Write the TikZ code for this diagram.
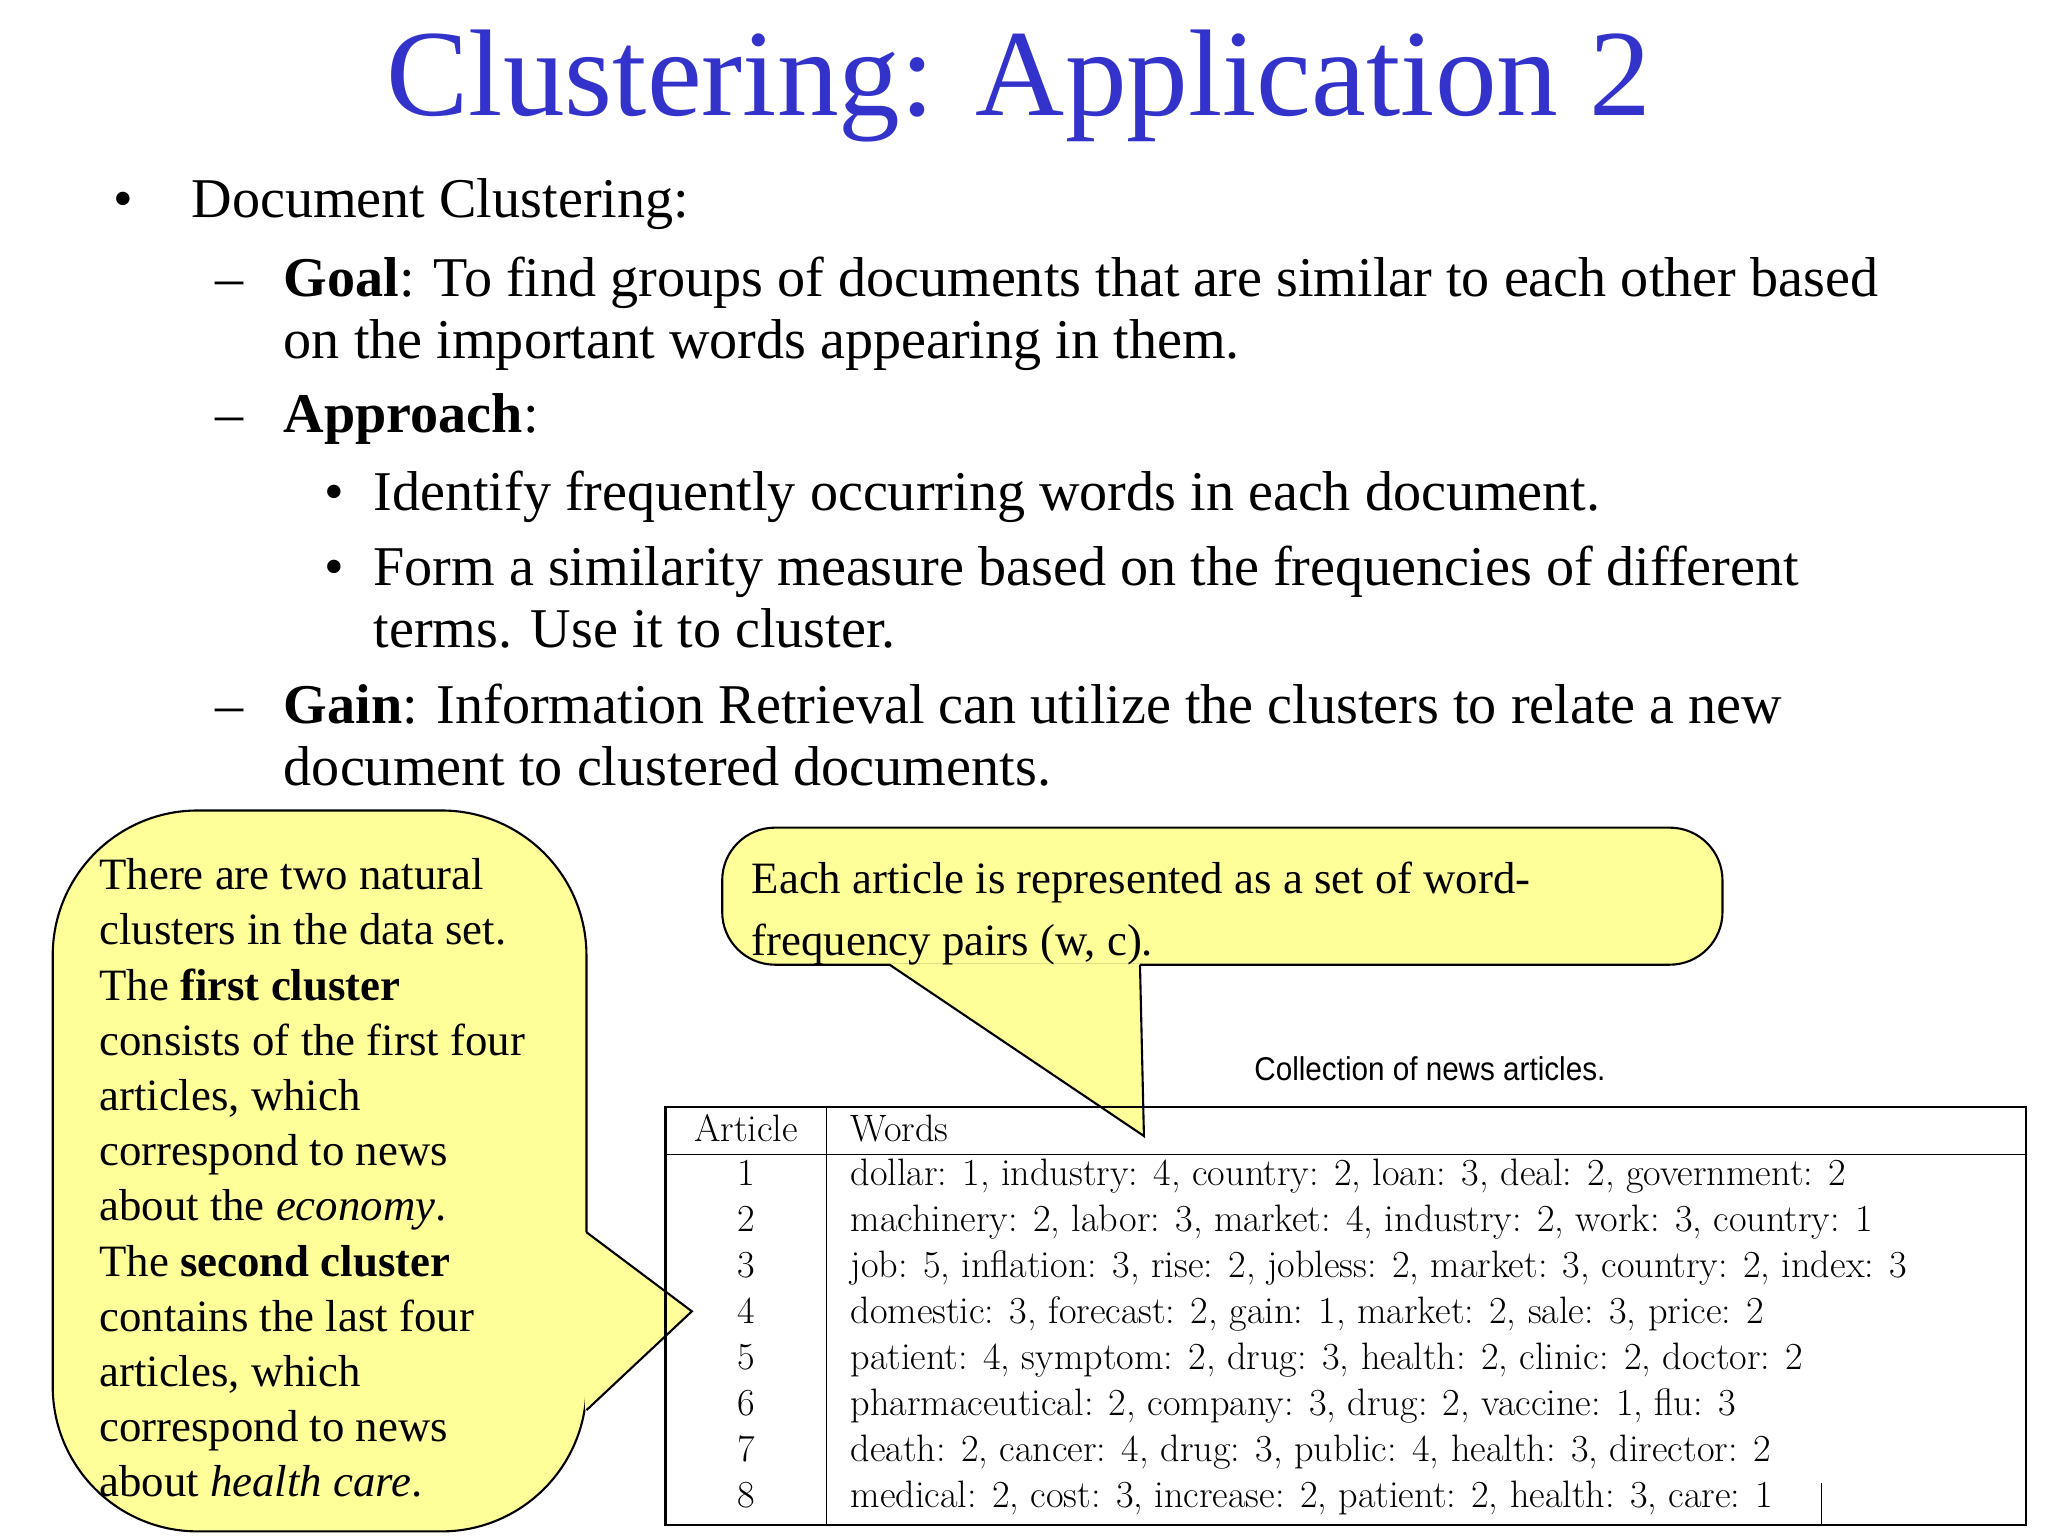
\documentclass[tikz,border=0pt]{standalone}
\usepackage{fontspec}
\setmainfont{Liberation Serif}
\newfontfamily\tabfont{Latin Modern Roman}
\newfontfamily\capfont{Liberation Sans}
\definecolor{callout}{HTML}{FFFF99}
\definecolor{titleblue}{HTML}{3333CC}
\begin{document}
\begin{tikzpicture}[x=0.5pt,y=-0.5pt,
  txt/.style={anchor=base west,inner sep=0pt,font=\fontsize{21.3}{24}\selectfont},
  ctxt/.style={anchor=base west,inner sep=0pt,font=\fontsize{17}{20}\selectfont},
  ttxt/.style={anchor=base west,inner sep=0pt,font=\tabfont\fontsize{14.5}{16}\selectfont},
  tnum/.style={anchor=base,inner sep=0pt,font=\tabfont\fontsize{14.5}{16}\selectfont},
  bubble/.style={draw=black,fill=callout,line width=0.8pt},
  edge/.style={draw=black,line width=0.8pt}]
\useasboundingbox (0,0) rectangle (1554,1166);
\fill[white] (0,0) rectangle (1554,1166);
\node[anchor=base,inner sep=0pt,text=titleblue,font=\fontsize{46.8}{50}\selectfont] (title) at (773,88) {Clustering: Application 2};
% bullets
\node[txt] (b1) at (86,165) {•};
\node[txt] (t1) at (145,165) {Document Clustering:};
\node[txt] (d1) at (163,225) {–};
\node[txt] (t2) at (215,225) {\textbf{Goal}: To find groups of documents that are similar to each other based};
\node[txt] (t3) at (215,272) {on the important words appearing in them.};
\node[txt] (d2) at (163,328) {–};
\node[txt] (t4) at (215,328) {\textbf{Approach}:};
\node[txt] (b2) at (246,387) {•};
\node[txt] (t5) at (283,387) {Identify frequently occurring words in each document.};
\node[txt] (b3) at (246,444) {•};
\node[txt] (t6) at (283,444) {Form a similarity measure based on the frequencies of different};
\node[txt] (t7) at (283,491) {terms. Use it to cluster.};
\node[txt] (d3) at (163,549) {–};
\node[txt] (t8) at (215,549) {\textbf{Gain}: Information Retrieval can utilize the clusters to relate a new};
\node[txt] (t9) at (215,596) {document to clustered documents.};
% left callout
\draw[bubble,rounded corners=55] (40,615) rectangle (445,1162);
\fill[callout] (444,935) -- (525,995) -- (444,1070) -- cycle;
\coordinate (lp1) at (445,935); \coordinate (lp) at (525,995); \coordinate (lp2) at (445,1070);
\draw[edge,line join=miter] (lp1) -- (lp) -- (lp2);
\foreach \i/\s in {0/{There are two natural},1/{clusters in the data set.},2/{The \textbf{first cluster}},3/{consists of the first four},4/{articles, which},5/{correspond to news},6/{about the \textit{economy}.},7/{The \textbf{second cluster}},8/{contains the last four},9/{articles, which},10/{correspond to news},11/{about \textit{health care}.}}
  \node[ctxt] (l\i) at (75,{675+41.9*\i}) {\s};
% right callout
\draw[bubble,rounded corners=20] (548,628) rectangle (1307,732);
\fill[callout] (675,731) -- (868,862) -- (865,731) -- cycle;
\coordinate (rp1) at (675,732); \coordinate (rp) at (868,862); \coordinate (rp2) at (865,732);
\draw[edge,line join=miter] (rp1) -- (rp) -- (rp2);
\node[ctxt] (r1) at (570,678) {Each article is represented as a set of word-};
\node[ctxt] (r2) at (570,725) {frequency pairs (w, c).};
% table
\node[anchor=base,inner sep=0pt,font=\capfont\fontsize{12.5}{14}\selectfont,xscale=0.9] (cap) at (1085,820) {Collection of news articles.};
\draw[line width=0.8pt] (505,840) rectangle (1537,1157);
\draw[line width=0.6pt] (505,876) -- (1537,876);
\draw[line width=0.6pt] (627,840) -- (627,1157);
\draw[line width=0.5pt] (1382,1125) -- (1382,1157);
\node[tnum] (hA) at (566,866) {Article};
\node[ttxt] (hW) at (645,866) {Words};
\foreach \i/\s in {1/{dollar: 1, industry: 4, country: 2, loan: 3, deal: 2, government: 2},
2/{machinery: 2, labor: 3, market: 4, industry: 2, work: 3, country: 1},
3/{job: 5, inflation: 3, rise: 2, jobless: 2, market: 3, country: 2, index: 3},
4/{domestic: 3, forecast: 2, gain: 1, market: 2, sale: 3, price: 2},
5/{patient: 4, symptom: 2, drug: 3, health: 2, clinic: 2, doctor: 2},
6/{pharmaceutical: 2, company: 3, drug: 2, vaccine: 1, flu: 3},
7/{death: 2, cancer: 4, drug: 3, public: 4, health: 3, director: 2},
8/{medical: 2, cost: 3, increase: 2, patient: 2, health: 3, care: 1}} {
  \node[tnum] (n\i) at (566,{865+34.9*\i}) {\i};
  \node[ttxt] (w\i) at (645,{865+34.9*\i}) {\s};
}
\end{tikzpicture}
\end{document}
